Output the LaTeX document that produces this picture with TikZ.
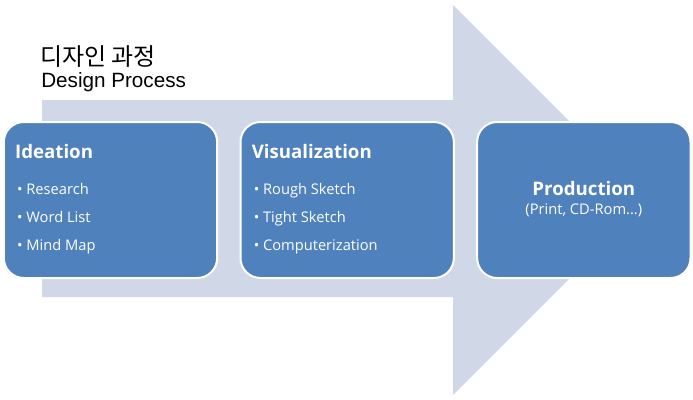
\documentclass[tikz,border=0pt]{standalone}
\usepackage{fontspec}
\setmainfont{Open Sans}
\newfontfamily\krfont{Noto Sans CJK KR}
\newfontfamily\arialfont{Liberation Sans}
\usetikzlibrary{positioning}
\definecolor{stageblue}{HTML}{4F81BD}
\definecolor{arrowgrey}{HTML}{D0D8E8}
\tikzset{
	stage/.style={rectangle, rounded corners=15pt, minimum width=160pt, minimum height=117pt, fill=stageblue, draw=white, line width=1.5pt},
	head/.style={anchor=base west, text=white, inner sep=0pt, font=\bfseries\fontsize{14}{16}\selectfont},
	item/.style={anchor=base west, text=white, inner sep=0pt, font=\fontsize{11}{13}\selectfont},
}
\begin{document}
\begin{tikzpicture}[x=0.75pt, y=-0.75pt, node distance=16pt]
			\useasboundingbox (0,0) rectangle (693,400);
			\fill[arrowgrey] (42,100) -- (453,100) -- (453,5) -- (648,200) -- (453,395) -- (453,297) -- (42,297) -- cycle;
			
			\node [anchor=base west, inner sep=0pt, font=\krfont\fontsize{18}{20}\selectfont] (kt) at (40,65) {디자인 과정};
			\node [anchor=base west, inner sep=0pt, font=\arialfont\fontsize{15.5}{18}\selectfont] (et) at (41,87) {Design Process};
			
			\node[stage] (id) at (110.5,200){};
			\node[stage, right=of id] (vi){};
			\node[stage, right=of vi] (pr){};
			
			\node [head] (idh) at ([xshift=9pt, yshift=-28pt]id.north west) {Ideation};
			\node [item] (id1) at ([xshift=10.5pt, yshift=-54.75pt]id.north west) {\textbullet\ Research};
			\node [item] (id2) at ([xshift=10.5pt, yshift=-75.75pt]id.north west) {\textbullet\ Word List};
			\node [item] (id3) at ([xshift=10.5pt, yshift=-96.75pt]id.north west) {\textbullet\ Mind Map};
			
			\node [head] (vih) at ([xshift=9pt, yshift=-28pt]vi.north west) {Visualization};
			\node [item] (vi1) at ([xshift=10.5pt, yshift=-54.75pt]vi.north west) {\textbullet\ Rough Sketch};
			\node [item] (vi2) at ([xshift=10.5pt, yshift=-75.75pt]vi.north west) {\textbullet\ Tight Sketch};
			\node [item] (vi3) at ([xshift=10.5pt, yshift=-96.75pt]vi.north west) {\textbullet\ Computerization};
			
			\node [head, anchor=base] (prh) at ([yshift=3.75pt]pr.center) {Production};
			\node [item, anchor=base] (pr1) at ([yshift=-10.5pt]pr.center) {(Print, CD-Rom...)};
		\end{tikzpicture}
\end{document}
